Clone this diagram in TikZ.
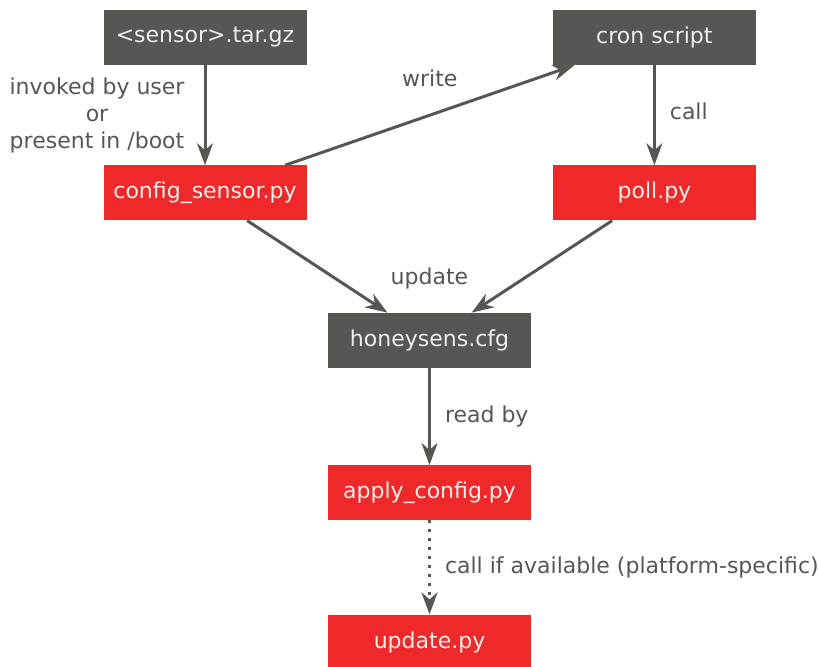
\documentclass[tikz,border=0pt]{standalone}
\usepackage{fontspec}
\setmainfont{DejaVu Sans}
\usetikzlibrary{positioning,arrows.meta}
\definecolor{tangoDark}{HTML}{555753}
\definecolor{tangoRed}{HTML}{EF2929}
\definecolor{tangoLight}{HTML}{EEEEEC}
\tikzset{
  block/.style={rectangle, minimum width=203pt, minimum height=55pt, inner sep=0pt, text=tangoLight},
  blockGray/.style={block, fill=tangoDark},
  blockRed/.style={block, fill=tangoRed},
  arrow/.style={-{Stealth[length=22pt, width=16pt, inset=7pt]}, line width=3pt, draw=tangoDark},
  edgeLabel/.style={inner sep=2pt, text=tangoDark, align=center}
}

\begin{document}
\begin{tikzpicture}[x=1pt, y=1pt, font=\fontsize{22}{27}\selectfont]
  \useasboundingbox (0,0) rectangle (818,-666);

  \node[blockGray] (tarball) at (205,-37.5) {<sensor>.tar.gz};
  \node[blockGray, right=246pt of tarball] (cron) {cron script};
  \node[blockRed, below=100pt of tarball] (configSensor) {config\_sensor.py};
  \node[blockRed, below=100pt of cron] (poll) {poll.py};
  \node[blockGray, below=92pt of configSensor, xshift=224.5pt] (cfg) {honeysens.cfg};
  \node[blockRed, below=97pt of cfg] (applyConfig) {apply\_config.py};
  \node[blockRed, below=94pt of applyConfig] (update) {update.py};
  \node[edgeLabel, above=21pt of cfg] (updateLabel) {update};

  \draw[arrow] (tarball) -- node[edgeLabel, midway, left=17pt]{invoked by user\\or\\present in /boot} (configSensor);
  \draw[arrow] (configSensor) -- node[edgeLabel, midway, yshift=37pt]{write} (cron);
  \draw[arrow] (cron) -- node[edgeLabel, midway, right=12pt, yshift=4pt]{call} (poll);
  \draw[arrow] (configSensor) -- (cfg);
  \draw[arrow] (poll) -- (cfg);
  \draw[arrow] (cfg) -- node[edgeLabel, midway, right=12pt]{read by} (applyConfig);
  \draw[arrow, dash pattern=on 3pt off 6pt] (applyConfig) -- node[edgeLabel, midway, right=12pt]{call if available (platform-specific)} (update);
\end{tikzpicture}
\end{document}
